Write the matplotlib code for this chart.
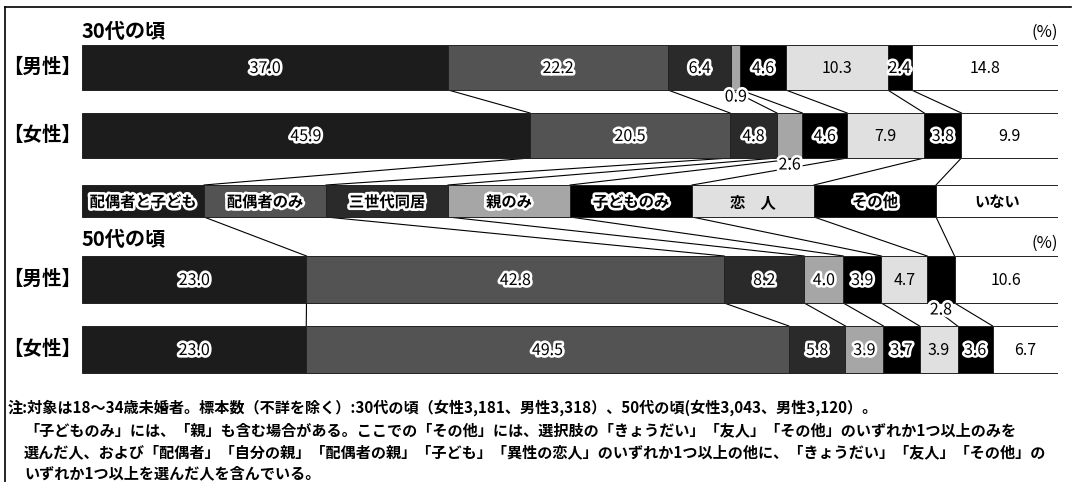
import matplotlib.pyplot as plt
import matplotlib.patheffects as pe
import numpy as np

plt.rcParams['font.family'] = ['Noto Sans CJK JP', 'DejaVu Sans']

# data
categories = ['配偶者と子ども', '配偶者のみ', '三世代同居', '親のみ', '子どものみ', '恋　人', 'その他', 'いない']
men_30 = [37.0, 22.2, 6.4, 0.9, 4.6, 10.3, 2.4, 14.8]
women_30 = [45.9, 20.5, 4.8, 2.6, 4.6, 7.9, 3.8, 9.9]
men_50 = [23.0, 42.8, 8.2, 4.0, 3.9, 4.7, 2.8, 10.6]
women_50 = [23.0, 49.5, 5.8, 3.9, 3.7, 3.9, 3.6, 6.7]
row_labels = ['【男性】', '【女性】']
group_titles = ['30代の頃', '50代の頃']
notes = [
    '注:対象は18～34歳未婚者。標本数（不詳を除く）:30代の頃（女性3,181、男性3,318）、50代の頃(女性3,043、男性3,120）。',
    '「子どものみ」には、「親」も含む場合がある。ここでの「その他」には、選択肢の「きょうだい」「友人」「その他」のいずれか1つ以上のみを',
    '選んだ人、および「配偶者」「自分の親」「配偶者の親」「子ども」「異性の恋人」のいずれか1つ以上の他に、「きょうだい」「友人」「その他」の',
    'いずれか1つ以上を選んだ人を含んでいる。',
]

# styles
colors = ['#1c1c1c', '#535353', '#2a2a2a', '#a6a6a6', '#000000', '#e0e0e0', '#000000', '#ffffff']
outlined = [True, True, True, True, True, False, True, False]
# labels put under the bar (row index, segment index)
below = [(0, 3), (1, 3), (2, 6)]

W, H = 1076, 482
fig = plt.figure(figsize=(W / 100, H / 100), dpi=100)
ax = fig.add_axes([82 / W, 0, 976 / W, 1])
ax.set_xlim(0, 100)
ax.set_ylim(H, 0)
ax.axis('off')

white = [pe.withStroke(linewidth=3.8, foreground='white')]

# rows: values, y center (px), bar height (px)
rows = [
    (men_30, 67.5, 45),
    (women_30, 135.5, 45),
    ([12.5] * 8, 201, 32),
    (men_50, 279.5, 47),
    (women_50, 349.5, 47),
]

cums = []
for r, (vals, yc, h) in enumerate(rows):
    vals = np.array(vals)
    pct = vals / vals.sum() * 100
    left = np.cumsum(pct) - pct
    ax.barh(yc, pct, left=left, height=h, color=colors,
            edgecolor='#222222', linewidth=0.7, zorder=2)
    cums.append((np.cumsum(pct), yc - h / 2, yc + h / 2))
    if r == 2:
        for i, name in enumerate(categories):
            ax.text(left[i] + pct[i] / 2, yc + 1, name, ha='center', va='center',
                    fontsize=11, fontweight='bold', zorder=4,
                    path_effects=white if outlined[i] else None)
        continue
    dr = r if r < 2 else r - 1
    for i, v in enumerate(vals):
        x = left[i] + pct[i] / 2
        if (dr, i) in below:
            ax.text(x, yc + h / 2 + 7, f'{v:.1f}', ha='center', va='center',
                    fontsize=11.5, zorder=4, path_effects=white)
        else:
            ax.text(x, yc + 1, f'{v:.1f}', ha='center', va='center', fontsize=11.5,
                    zorder=4, path_effects=white if outlined[i] else None)

# connector lines between neighbouring rows
for (ca, _, bot), (cb, top, _) in zip(cums[:-1], cums[1:]):
    for k in range(7):
        ax.plot([ca[k], cb[k]], [bot, top], color='black', lw=0.8, zorder=1)

# titles, units, row labels
for title, yt, yp in [(group_titles[0], 32, 32), (group_titles[1], 240, 243)]:
    ax.text(0, yt, title, ha='left', va='center', fontsize=14.5, fontweight='bold')
    ax.text(100, yp, '(%)', ha='right', va='center', fontsize=12)

for r, (vals, yc, h) in enumerate(rows):
    if r == 2:
        continue
    lab = row_labels[0] if r in (0, 3) else row_labels[1]
    fig.text(3 / W, 1 - yc / H, lab, ha='left', va='center', fontsize=14, fontweight='bold')

# notes
for j, (line, yn) in enumerate(zip(notes, [408, 430, 452, 473])):
    xn = 8 if j == 0 else 24
    fig.text(xn / W, 1 - yn / H, line, ha='left', va='center', fontsize=10.9,
             fontweight='bold')

# frame
fig.add_artist(plt.Line2D([5 / W, 5 / W], [1 - 7 / H, 0], color='black', lw=1.2,
                          transform=fig.transFigure))
fig.add_artist(plt.Line2D([5 / W, 1071 / W], [1 - 7 / H, 1 - 7 / H], color='black',
                          lw=1.2, transform=fig.transFigure))

plt.savefig('out.png', dpi=100)
